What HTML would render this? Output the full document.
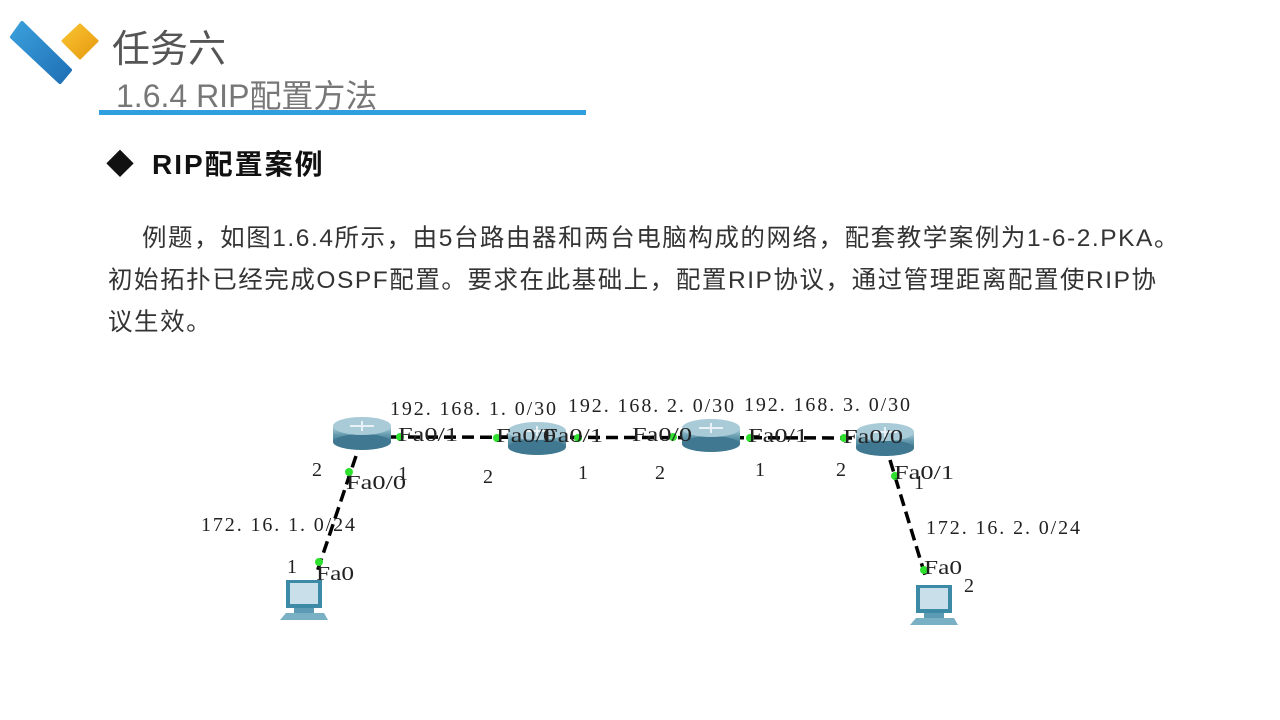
<!DOCTYPE html>
<html><head><meta charset="utf-8"><style>
body{margin:0;width:1280px;height:720px;background:#fff;position:relative;overflow:hidden;font-family:"Liberation Sans","Noto Sans CJK SC",sans-serif}
.a{position:absolute;white-space:nowrap}
</style></head><body>
<svg class="a" style="left:0;top:0" width="110" height="90">
<defs><linearGradient id="b" x1="0" y1="0" x2="1" y2="1"><stop offset="0" stop-color="#3aa0dc"/><stop offset="1" stop-color="#1f6fb5"/></linearGradient>
<linearGradient id="y" x1="0" y1="0" x2="1" y2="1"><stop offset="0" stop-color="#f8c430"/><stop offset="1" stop-color="#e89a10"/></linearGradient></defs>
<path d="M12 37 L22 23 L70 70 L60 82 Z" fill="url(#b)" stroke="url(#b)" stroke-width="4" stroke-linejoin="round"/>
<path d="M63 41 L80 25 L97 41 L80 58 Z" fill="url(#y)" stroke="url(#y)" stroke-width="3" stroke-linejoin="round"/>
</svg>
<div class="a" style="left:112px;top:18px;font-size:38px;color:#555">任务六</div>
<div class="a" style="left:116px;top:76px;font-size:32px;line-height:40px;color:#777">1.6.4 RIP配置方法</div>
<div class="a" style="left:99px;top:110px;width:487px;height:5px;background:#2f9fe0"></div>
<div class="a" style="left:106px;top:143px;font-size:28px;font-weight:bold;color:#111">◆</div>
<div class="a" style="left:152px;top:143px;font-size:28px;font-weight:bold;color:#111;letter-spacing:2px">RIP配置案例</div>
<div class="a" style="left:108px;top:218px;font-size:24.5px;color:#333;line-height:42px;letter-spacing:1.55px">
<div style="text-indent:34px">例题，如图1.6.4所示，由5台路由器和两台电脑构成的网络，配套教学案例为1-6-2.PKA。</div>
<div>初始拓扑已经完成OSPF配置。要求在此基础上，配置RIP协议，通过管理距离配置使RIP协</div>
<div>议生效。</div>
</div>
<svg class="a" style="left:0;top:0" width="1280" height="720" font-family="Liberation Serif,serif" font-size="20" fill="#222">
<defs>
<linearGradient id="r" x1="0" y1="0" x2="0" y2="1"><stop offset="0" stop-color="#b8d4de"/><stop offset="0.5" stop-color="#6b9fb2"/><stop offset="1" stop-color="#3f7890"/></linearGradient>
<g id="rt"><rect x="-29" y="-8" width="58" height="16" fill="url(#r)"/><ellipse cx="0" cy="8" rx="29" ry="8" fill="#3f7890"/><ellipse cx="0" cy="-8" rx="29" ry="9" fill="#a9cbd8"/><path d="M-12 -8 h24 M0 -13 v10" stroke="#e8f2f6" stroke-width="2"/></g>
<g id="pc"><rect x="-18" y="-20" width="36" height="28" fill="#3d8aa6"/><rect x="-14" y="-17" width="28" height="21" fill="#c9e0ea"/><rect x="-10" y="8" width="20" height="5" fill="#5c9bb3"/><path d="M-24 20 L-18 13 H20 L24 20 Z" fill="#7ab0c3"/></g>
</defs>
<g stroke="#000" stroke-width="3.5" stroke-dasharray="12,6" fill="none">
<line x1="390" y1="437" x2="860" y2="438"/>
<line x1="356" y1="456" x2="316" y2="575"/>
<line x1="890" y1="460" x2="925" y2="575"/>
</g>
<use href="#rt" x="362" y="434"/><use href="#rt" x="537" y="439"/><use href="#rt" x="711" y="436"/><use href="#rt" x="885" y="440"/>
<use href="#pc" x="304" y="600"/><use href="#pc" x="934" y="605"/>
<g fill="#2fe02f"><circle cx="400" cy="437" r="4"/><circle cx="497" cy="438" r="4"/><circle cx="578" cy="438" r="4"/><circle cx="673" cy="437" r="4"/><circle cx="750" cy="438" r="4"/><circle cx="844" cy="438" r="4"/><circle cx="349" cy="472" r="4"/><circle cx="319" cy="562" r="4"/><circle cx="895" cy="476" r="4"/><circle cx="924" cy="570" r="4"/></g>
<text x="390" y="415" textLength="166" lengthAdjust="spacing">192. 168. 1. 0/30</text><text x="568" y="412" textLength="166" lengthAdjust="spacing">192. 168. 2. 0/30</text><text x="744" y="411" textLength="166" lengthAdjust="spacing">192. 168. 3. 0/30</text>
<g font-size="20"><text x="398" y="441" textLength="60" lengthAdjust="spacingAndGlyphs">Fa0/1</text><text x="496" y="442" textLength="60" lengthAdjust="spacingAndGlyphs">Fa0/0</text><text x="543" y="442" textLength="60" lengthAdjust="spacingAndGlyphs">Fa0/1</text><text x="632" y="441" textLength="60" lengthAdjust="spacingAndGlyphs">Fa0/0</text><text x="748" y="442" textLength="60" lengthAdjust="spacingAndGlyphs">Fa0/1</text><text x="843" y="443" textLength="60" lengthAdjust="spacingAndGlyphs">Fa0/0</text>
<text x="346" y="489" textLength="60" lengthAdjust="spacingAndGlyphs">Fa0/0</text><text x="316" y="580" textLength="38" lengthAdjust="spacingAndGlyphs">Fa0</text><text x="894" y="479" textLength="60" lengthAdjust="spacingAndGlyphs">Fa0/1</text><text x="924" y="574" textLength="38" lengthAdjust="spacingAndGlyphs">Fa0</text></g>
<text x="312" y="476">2</text><text x="398" y="480">1</text><text x="483" y="483">2</text><text x="578" y="479">1</text><text x="655" y="479">2</text><text x="755" y="476">1</text><text x="836" y="476">2</text><text x="914" y="489">1</text><text x="287" y="573">1</text><text x="964" y="592">2</text>
<text x="201" y="531" textLength="154" lengthAdjust="spacing">172. 16. 1. 0/24</text><text x="926" y="534" textLength="154" lengthAdjust="spacing">172. 16. 2. 0/24</text>
</svg>
</body></html>
